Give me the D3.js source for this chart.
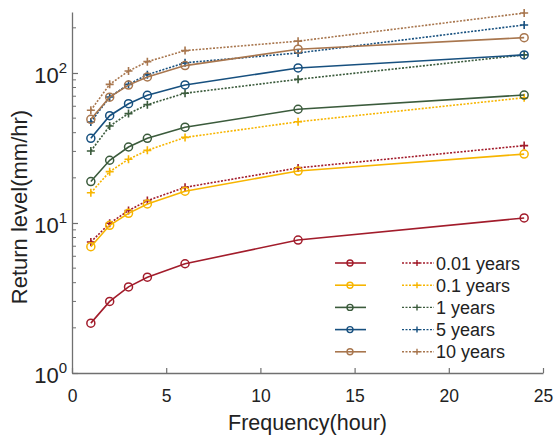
<!DOCTYPE html>
<html>
<head>
<meta charset="utf-8">
<script src="https://cdn.jsdelivr.net/npm/d3@7"></script>
<style>
  body { margin: 0; background: #fff; }
  text { font-family: "Liberation Sans", Arial, sans-serif; fill: #222; }
</style>
</head>
<body>
<script>
// frequencies (hours)
const hours = [1, 2, 3, 4, 6, 12, 24];
const periods = ["0.01 years", "0.1 years", "1 years", "5 years", "10 years"];
const colors = ["#a21c2b", "#f7b500", "#3b5b3c", "#17507f", "#a8764e"];

// solid lines with circles
const solidVals = [
  [2.15, 3.0, 3.75, 4.35, 5.35, 7.7, 10.8],
  [6.95, 9.65, 11.6, 13.4, 16.3, 22.2, 28.8],
  [18.9, 26.2, 32.1, 36.7, 43.5, 57.3, 71.3],
  [36.7, 51.9, 62.4, 71, 83.2, 108, 132],
  [49.1, 69, 83, 94, 112, 144, 172]
];
// dotted lines with plus markers
const dashVals = [
  [7.47, 9.95, 12.1, 14.1, 17.3, 23.3, 32.8],
  [15.9, 22, 26.6, 30.5, 37.2, 47.3, 68.4],
  [30.2, 44.3, 53.6, 61.5, 73.3, 90.7, 132],
  [47.1, 69.2, 84, 97.5, 117, 136, 209],
  [56.4, 84, 103, 119, 141, 163, 251]
];

const width = 554, height = 439;
const margin = { left: 72, right: 11, top: 12, bottom: 66 };

const svg = d3.select("body").append("svg")
  .attr("width", width)
  .attr("height", height);

const x = d3.scaleLinear().domain([0, 25]).range([margin.left, width - margin.right]);
const y = d3.scaleLog().domain([1, 255]).range([height - margin.bottom, margin.top]);

const axisColor = "#707070";

// x axis
const xAxis = svg.append("g")
  .attr("transform", "translate(0," + (height - margin.bottom) + ")")
  .call(d3.axisBottom(x).tickValues([0, 5, 10, 15, 20, 25]).tickSizeInner(-5).tickSizeOuter(0).tickPadding(17));
xAxis.select(".domain").attr("stroke", axisColor).attr("stroke-width", 1.3);
xAxis.selectAll(".tick line").attr("stroke", axisColor).attr("stroke-width", 1.2);
xAxis.selectAll(".tick text").style("font-size", "17.5px").attr("fill", "#222");

// y axis: major + minor ticks
const minor = [];
for (let d = 1; d < 1000; d *= 10) {
  for (let k = 2; k < 10; k++) { if (d * k <= 255) minor.push(d * k); }
}
const yAxis = svg.append("g")
  .attr("transform", "translate(" + margin.left + ",0)")
  .call(d3.axisLeft(y).tickValues([1, 10, 100]).tickSizeInner(-6).tickSizeOuter(0).tickFormat(""));
yAxis.select(".domain").attr("stroke", axisColor).attr("stroke-width", 1.3);
yAxis.selectAll(".tick line").attr("stroke", axisColor).attr("stroke-width", 1.2);

svg.append("g").selectAll("line").data(minor).enter().append("line")
  .attr("x1", margin.left).attr("x2", margin.left + 4)
  .attr("y1", d => y(d)).attr("y2", d => y(d))
  .attr("stroke", axisColor).attr("stroke-width", 1);

const yLab = svg.append("g").selectAll("text").data([0, 1, 2]).enter().append("text")
  .attr("x", margin.left - 5)
  .attr("y", d => y(Math.pow(10, d)) + 10)
  .attr("text-anchor", "end")
  .style("font-size", "22px");
yLab.append("tspan").text("10");
yLab.append("tspan").attr("dy", -10).style("font-size", "15px").text(d => d);

// axis titles
svg.append("text")
  .attr("x", x(12.5)).attr("y", 430)
  .attr("text-anchor", "middle")
  .style("font-size", "21.5px")
  .text("Frequency(hour)");
svg.append("text")
  .attr("transform", "translate(27,207) rotate(-90)")
  .attr("text-anchor", "middle")
  .style("font-size", "22px")
  .text("Return level(mm/hr)");

const line = d3.line().x((d, i) => x(hours[i])).y(d => y(d));

// dotted series
dashVals.forEach((vals, s) => {
  const g = svg.append("g");
  g.append("path").datum(vals).attr("d", line)
    .attr("fill", "none").attr("stroke", colors[s])
    .attr("stroke-width", 1.6).attr("stroke-dasharray", "2,1.5");
  g.selectAll("path.plus").data(vals).enter().append("path")
    .attr("class", "plus")
    .attr("d", (d, i) => {
      const cx = x(hours[i]), cy = y(d);
      return "M" + (cx - 4) + "," + cy + "H" + (cx + 4) + "M" + cx + "," + (cy - 4) + "V" + (cy + 4);
    })
    .attr("stroke", colors[s]).attr("stroke-width", 1.6);
});

// solid series
solidVals.forEach((vals, s) => {
  const g = svg.append("g");
  g.append("path").datum(vals).attr("d", line)
    .attr("fill", "none").attr("stroke", colors[s]).attr("stroke-width", 1.6);
  g.selectAll("circle").data(vals).enter().append("circle")
    .attr("cx", (d, i) => x(hours[i])).attr("cy", d => y(d))
    .attr("r", 4).attr("fill", "none")
    .attr("stroke", colors[s]).attr("stroke-width", 1.5);
});

// legend
const leg = svg.append("g");
periods.forEach((p, i) => {
  const ly = 263 + i * 22.2;
  leg.append("line").attr("x1", 335).attr("x2", 366).attr("y1", ly).attr("y2", ly)
    .attr("stroke", colors[i]).attr("stroke-width", 1.6);
  leg.append("circle").attr("cx", 350).attr("cy", ly).attr("r", 3)
    .attr("fill", "none").attr("stroke", colors[i]).attr("stroke-width", 1.4);
  leg.append("line").attr("x1", 402).attr("x2", 434).attr("y1", ly).attr("y2", ly)
    .attr("stroke", colors[i]).attr("stroke-width", 1.4).attr("stroke-dasharray", "2,1.5");
  leg.append("path")
    .attr("d", "M414," + ly + "H420M417," + (ly - 3) + "V" + (ly + 3))
    .attr("stroke", colors[i]).attr("stroke-width", 1.4);
  leg.append("text").attr("x", 436).attr("y", ly + 6.5)
    .style("font-size", "18px").text(p);
});
</script>
</body>
</html>
